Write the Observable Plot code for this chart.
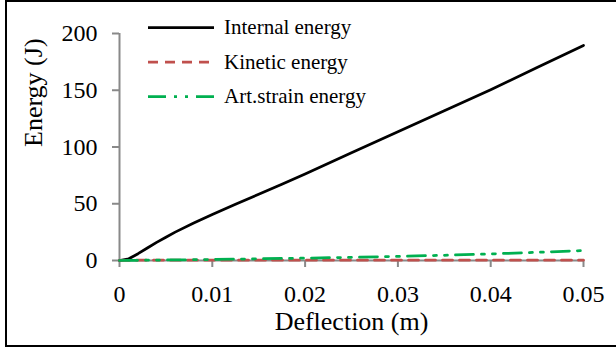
<!DOCTYPE html>
<html>
<head>
<meta charset="utf-8">
<script src="https://cdn.jsdelivr.net/npm/d3@7"></script>
<script src="https://cdn.jsdelivr.net/npm/@observablehq/plot@0.6"></script>
<style>
html, body { margin: 0; padding: 0; background: #fff; }
#wrap { position: relative; width: 616px; height: 348px; overflow: hidden; background: #fff; }
#frame { position: absolute; left: 5px; top: 0; width: 700px; height: 347px; border: 2px solid #000; box-sizing: border-box; }
#chart { position: absolute; left: 0; top: 0; }
#legend { position: absolute; left: 0; top: 0; }
#wrap, #wrap svg, #wrap text { font-family: "Liberation Serif", Tinos, "Times New Roman", Times, "DejaVu Serif", serif; }
</style>
</head>
<body>
<div id="wrap">
  <div id="frame"></div>
  <div id="chart"></div>
</div>
<script>
// ---- data ----
const deflection      = [0, 0.001, 0.002, 0.003, 0.004, 0.005, 0.006, 0.008, 0.01, 0.0125, 0.015, 0.0175, 0.02, 0.025, 0.03, 0.035, 0.04, 0.045, 0.05];
const internalEnergy  = [0, 1.5, 6, 11, 16, 20.5, 25, 33, 40.5, 49.5, 58.3, 67.2, 76.3, 95, 113.5, 132, 150.5, 170, 189.5];
const kineticEnergy   = [0, 0.2, 0.3, 0.3, 0.3, 0.3, 0.3, 0.3, 0.3, 0.3, 0.3, 0.3, 0.3, 0.3, 0.3, 0.3, 0.3, 0.3, 0.3];
const artStrainEnergy = [0, 0.05, 0.15, 0.25, 0.35, 0.45, 0.55, 0.7, 0.9, 1.2, 1.5, 1.8, 2.1, 2.8, 3.6, 4.6, 5.8, 7.2, 8.8];

const seriesNames  = ["Internal energy", "Kinetic energy", "Art.strain energy"];
const seriesColors = ["#000000", "#C0504D", "#00B050"];
const seriesDashes = [null, "10,7", "18,8,3,8,3,8"];

const xTicks = [0, 0.01, 0.02, 0.03, 0.04, 0.05];
const yTicks = [0, 50, 100, 150, 200];
const xTitle = "Deflection (m)";
const yTitle = "Energy (J)";

// ---- build ----
const seriesValues = [internalEnergy, kineticEnergy, artStrainEnergy];
const rows = seriesNames.flatMap((name, i) =>
  deflection.map((x, j) => ({ series: name, x, y: seriesValues[i][j] })));

const axisGray = "#898989";
const font = '"Liberation Serif", Tinos, "Times New Roman", Times, "DejaVu Serif", serif';

const lineMarks = seriesNames.map((name, i) => Plot.line(
  rows.filter(r => r.series === name),
  { x: "x", y: "y", stroke: seriesColors[i], strokeWidth: 2.75,
    strokeDasharray: seriesDashes[i] || undefined, strokeLinejoin: "round" }));

const chart = Plot.plot({
  width: 616, height: 348,
  marginLeft: 119, marginRight: 33, marginTop: 33, marginBottom: 88,
  x: { domain: [0, 0.05], label: null },
  y: { domain: [0, 200], label: null },
  style: { fontFamily: font, fontSize: "24px", background: "transparent", color: "#000", overflow: "visible" },
  marks: [
    Plot.ruleX([0], { stroke: axisGray, strokeWidth: 2 }),
    Plot.ruleY([0], { stroke: axisGray, strokeWidth: 2 }),
    Plot.axisX({ ticks: xTicks, tickFormat: d => String(d), tickSize: 7, tickPadding: 17,
                 stroke: axisGray, strokeWidth: 2, fill: "#000", label: null, fontSize: 24 }),
    Plot.axisY({ ticks: yTicks, tickFormat: d => String(d), tickSize: 7, tickPadding: 15,
                 stroke: axisGray, strokeWidth: 2, fill: "#000", label: null, fontSize: 24 }),
    ...lineMarks,
    Plot.text([xTitle], { text: d => d, frameAnchor: "bottom", dy: 69, fontSize: 26, fill: "#000" }),
    Plot.text([yTitle], { text: d => d, frameAnchor: "left", dx: -86, rotate: -90, fontSize: 26, fill: "#000" })
  ]
});
document.getElementById("chart").appendChild(chart);

// ---- legend (inside the plot area, upper left) ----
const legend = d3.select("#wrap").append("svg")
  .attr("id", "legend").attr("width", 616).attr("height", 348);
const item = legend.selectAll("g").data(seriesNames).join("g")
  .attr("transform", (d, i) => `translate(148,${27.7 + i * 34.5})`);
item.append("line")
  .attr("x1", 0).attr("x2", 66).attr("y1", 0).attr("y2", 0)
  .attr("stroke", (d, i) => seriesColors[i])
  .attr("stroke-width", 2.75)
  .attr("stroke-dasharray", (d, i) => seriesDashes[i]);
item.append("text")
  .attr("x", 76).attr("dy", "0.32em")
  .attr("font-size", 21)
  .attr("fill", "#000")
  .text(d => d);
</script>
</body>
</html>
